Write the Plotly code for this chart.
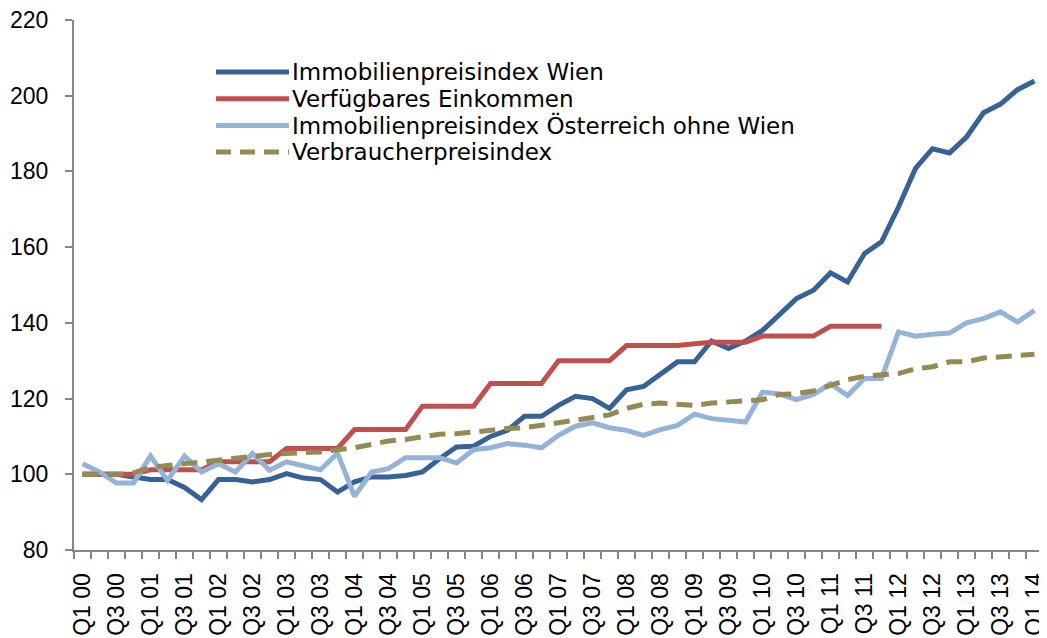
import plotly.graph_objects as go

# quarters Q1 00 .. Q1 14
quarters = []
for yr in range(0, 15):
    for q in range(1, 5):
        if yr == 14 and q > 1:
            break
        quarters.append("Q%d %02d" % (q, yr))

# index values (Q1 2000 = 100)
wien = [100, 100, 100, 99.3, 98.6, 98.6, 96.5, 93.3, 98.6, 98.6,
        98.0, 98.6, 100.2, 99.0, 98.6, 95.3, 98.0, 99.3, 99.3, 99.7,
        100.6, 104.1, 107.2, 107.4, 110.0, 111.6, 115.3, 115.3, 118.2, 120.6,
        120.0, 117.4, 122.3, 123.2, 126.6, 129.7, 129.7, 135.2, 133.2, 135.2,
        138.0, 142.0, 146.4, 148.6, 153.2, 150.8, 158.3, 161.4, 170.6, 180.8,
        186.0, 184.9, 189.1, 195.5, 197.8, 201.6, 203.9]

einkommen = [100, 100, 100, 100, 101.2, 101.2, 101.2, 101.2, 103.3, 103.3,
             103.3, 103.3, 106.8, 106.8, 106.8, 106.8, 111.8, 111.8, 111.8, 111.8,
             118.0, 118.0, 118.0, 118.0, 124.0, 124.0, 124.0, 124.0, 130.0, 130.0,
             130.0, 130.0, 134.0, 134.0, 134.0, 134.0, 134.5, 134.9, 134.9, 134.9,
             136.5, 136.5, 136.5, 136.5, 139.1, 139.1, 139.1, 139.1]

oesterreich = [102.8, 100.6, 97.7, 97.7, 104.8, 98.4, 104.8, 100.6, 102.8, 100.6,
               105.5, 101.1, 103.3, 102.4, 101.2, 105.6, 94.2, 100.6, 101.5, 104.4,
               104.4, 104.4, 103.0, 106.5, 107.0, 108.1, 107.7, 107.0, 110.3, 112.7,
               113.6, 112.3, 111.6, 110.3, 111.8, 112.9, 115.9, 114.7, 114.3, 113.8,
               121.7, 121.2, 119.7, 121.1, 123.9, 120.8, 125.3, 125.3, 137.6, 136.5,
               137.0, 137.3, 140.0, 141.1, 142.9, 140.2, 143.3]

vpi = [100, 100, 100, 100.4, 101.8, 102.3, 102.8, 103.3, 103.9, 104.3,
       104.8, 105.2, 105.5, 105.7, 105.9, 106.5, 107.0, 107.9, 108.8, 109.2,
       110.0, 110.6, 110.7, 111.2, 111.6, 112.1, 112.3, 112.8, 113.6, 114.3,
       114.9, 115.7, 117.4, 118.5, 118.8, 118.4, 118.2, 118.8, 119.1, 119.1,
       119.7, 121.1, 121.3, 122.0, 123.5, 125.0, 125.9, 126.2, 126.6, 127.9,
       128.4, 129.7, 129.7, 130.7, 131.0, 131.3, 131.7]

names = ["Immobilienpreisindex Wien", "Verfügbares Einkommen",
         "Immobilienpreisindex Österreich ohne Wien", "Verbraucherpreisindex"]
colors = ["#376296", "#C0504D", "#95B3D7", "#948A54"]
dashes = ["solid", "solid", "solid", "16px,9px"]

x = list(range(len(quarters)))
series = [wien, einkommen, oesterreich, vpi]

fig = go.Figure()
for vals, name, col, dash in zip(series, names, colors, dashes):
    fig.add_trace(go.Scatter(x=x[:len(vals)], y=vals, mode="lines", name=name,
                             showlegend=False,
                             line=dict(color=col, width=5, dash=dash)))

# the page body has an 8px margin, so the figure is a bit smaller than the window
OFF = 8
W, H = 1047 - OFF, 638 - OFF
L, R, T, B = 74 - OFF, 4, 20 - OFF, 88
pw, ph = W - L - R, H - T - B

# window pixel -> paper coords
def px(v):
    return (v - OFF - L) / pw
def py(v):
    return (H - B - (v - OFF)) / ph

# hand-drawn legend (Excel style: long line samples)
for k, (name, col, dash) in enumerate(zip(names, colors, dashes)):
    yy = py(72 + 26.7 * k)
    fig.add_shape(type="line", xref="paper", yref="paper",
                  x0=px(216), x1=px(289), y0=yy, y1=yy,
                  line=dict(color=col, width=5, dash="15px,9px" if dash != "solid" else "solid"))
    fig.add_annotation(xref="paper", yref="paper", x=px(290), y=yy,
                       xanchor="left", yanchor="middle", text=name, showarrow=False,
                       font=dict(family="DejaVu Sans", size=23, color="#000000"))

fig.update_layout(
    width=W, height=H,
    margin=dict(l=L, r=R, t=T, b=B),
    plot_bgcolor="white", paper_bgcolor="white",
    font=dict(family="Liberation Sans", size=23, color="#000000"),
    showlegend=False,
)
fig.update_xaxes(
    range=[-0.5, len(quarters) - 0.5], automargin=False,
    tickmode="array", tickvals=x[::2], ticktext=quarters[::2],
    tickangle=-90, ticks="", showgrid=False, zeroline=False,
    showline=True, linecolor="#868686", linewidth=2, ticklabelstandoff=12,
    ticklabeloverflow="allow",
    minor=dict(ticks="outside", tickmode="linear", tick0=-0.5, dtick=1,
               ticklen=7, tickcolor="#868686", tickwidth=2, showgrid=False),
)
fig.update_yaxes(
    range=[80, 220], dtick=20, ticks="outside", ticklen=7, automargin=False,
    tickcolor="#868686", tickwidth=2, showgrid=False, zeroline=False,
    showline=True, linecolor="#868686", linewidth=2, ticklabelstandoff=12,
    ticklabeloverflow="allow",
)

fig.write_html("out.html")
